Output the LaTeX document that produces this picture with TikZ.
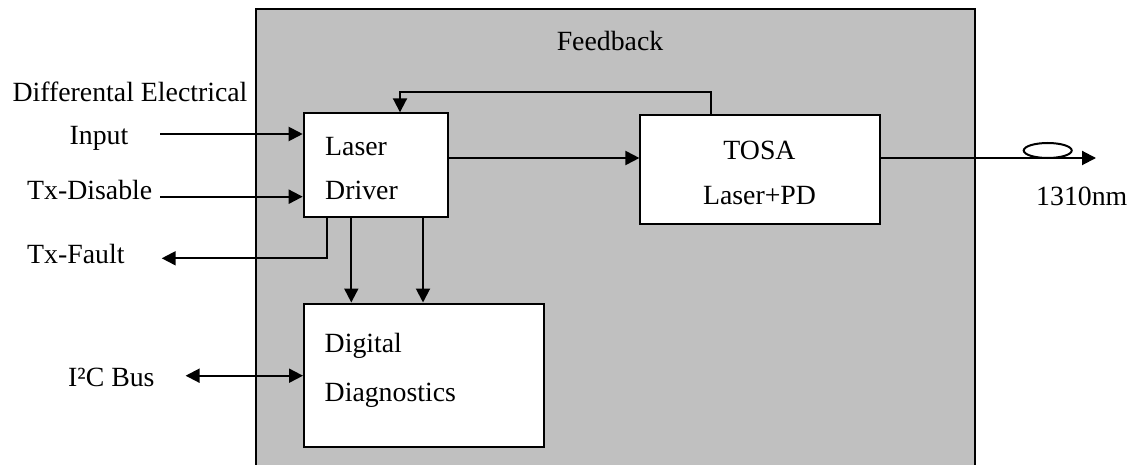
\documentclass[tikz,border=0pt]{standalone}
\usepackage{fontspec}
\setmainfont{Liberation Serif}
\usetikzlibrary{arrows.meta,shapes.geometric}
\definecolor{panelgray}{RGB}{192,192,192}
\tikzset{
  blk/.style={draw=black, line width=2pt, fill=white, rectangle, inner sep=0pt},
  lbl/.style={inner sep=0pt, font=\fontsize{27.8}{33}\selectfont},
  tip/.style={Triangle[length=14pt,width=14pt]},
  conn/.style={line width=2pt, -{Triangle[length=14pt,width=14pt]}},
  conn2/.style={line width=2pt, {Triangle[length=14pt,width=14pt]}-{Triangle[length=14pt,width=14pt]}},
}
\begin{document}
\begin{tikzpicture}[x=1pt,y=-1pt]
\useasboundingbox (0,0) rectangle (1131,465);
% panel
\fill[panelgray] (256,9.3) rectangle (975,466);
\draw[line width=2pt] (256,467) -- (256,9.3) -- (975,9.3) -- (975,467);
% blocks
\node[blk, minimum width=144pt, minimum height=104pt] (LD) at (375.7,165.3) {};
\node[blk, minimum width=240pt, minimum height=109pt] (TOSA) at (760.4,169.5) {};
\node[blk, minimum width=240pt, minimum height=143pt] (DD) at (424,375) {};
% texts
\node[lbl, anchor=base] (tfb) at (610,51) {Feedback};
\node[lbl, anchor=base] (tdiff) at (130,101.7) {Differental Electrical};
\node[lbl, anchor=base] (tin) at (99,145) {Input};
\node[lbl, anchor=base west] (tdis) at (27,199.3) {Tx-Disable};
\node[lbl, anchor=base west] (tflt) at (27,263.3) {Tx-Fault};
\node[lbl, anchor=base west] (tlas) at (325,156) {Laser};
\node[lbl, anchor=base west] (tdrv) at (325,199) {Driver};
\node[lbl, anchor=base] (ttosa) at (759.5,160) {TOSA};
\node[lbl, anchor=base] (tlpd) at (759.5,204.7) {Laser+PD};
\node[lbl, anchor=base west] (tnm) at (1036,205.8) {1310nm};
\node[lbl, anchor=base west] (ti2c) at (68,386.4) {I²C Bus};
\node[lbl, anchor=base west] (tdig) at (324.5,352.7) {Digital};
\node[lbl, anchor=base west] (tdiag) at (324.5,401.7) {Diagnostics};
% free ends
\coordinate (inS) at (160,134);
\coordinate (disS) at (160,196.7);
\coordinate (fltE) at (161.7,258.3);
\coordinate (i2cE) at (185.6,375.7);
\coordinate (outE) at (1096,158);
\coordinate (fbTop) at (400,92);
% connectors
\draw[conn] (inS) -- (inS -| LD.west);
\draw[conn] (disS) -- (disS -| LD.west);
\draw[conn] ([xshift=24.6pt]LD.south west) |- (fltE);
\draw[conn] ([xshift=48.6pt]LD.south west) -- ([xshift=48.3pt]DD.north west);
\draw[conn] ([xshift=120.3pt]LD.south west) -- ([xshift=120pt]DD.north west);
\draw[conn] (LD.east |- outE) -- (TOSA.west |- outE);
\draw[conn] ([xshift=71.6pt]TOSA.north west) |- (fbTop) -- (fbTop |- LD.north);
\draw[conn] (TOSA.east |- outE) -- (outE);
\draw[conn2] (i2cE) -- (i2cE -| DD.west);
% fibre loop
\node[draw, line width=2pt, ellipse, minimum width=48pt, minimum height=15pt, inner sep=0pt] (loop) at (1047.7,150.5) {};
\end{tikzpicture}
\end{document}
